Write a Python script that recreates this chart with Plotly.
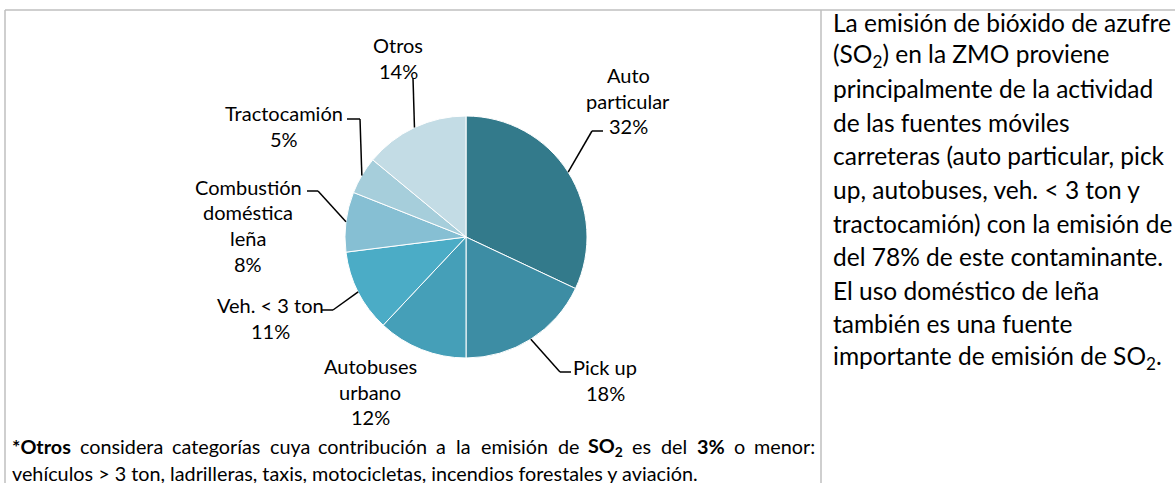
import math
import plotly.graph_objects as go

W, H = 1175, 483

# ---------------- data ----------------
categories = ["Auto particular", "Pick up", "Autobuses urbano", "Veh. < 3 ton",
              "Combustión doméstica leña", "Tractocamión", "Otros"]
values = [32, 18, 12, 11, 8, 5, 14]
name_lines = [["Auto", "particular"], ["Pick up"], ["Autobuses", "urbano"],
              ["Veh. < 3 ton"], ["Combustión", "doméstica", "leña"],
              ["Tractocamión"], ["Otros"]]
colors = ["#337A8B", "#3D8DA4", "#459FB8", "#4BACC6", "#86BFD3", "#A6CEDB", "#C3DCE5"]

side_text = [
    "La emisión de bióxido de azufre",
    "(SO<sub>2</sub>) en la ZMO proviene",
    "principalmente de la actividad",
    "de las fuentes móviles",
    "carreteras (auto particular, pick",
    "up, autobuses, veh. < 3 ton y",
    "tractocamión) con la emisión de",
    "del 78% de este contaminante.",
    "El uso doméstico de leña",
    "también es una fuente",
    "importante de emisión de SO<sub>2</sub>.",
]
# first footnote line is justified: (word, bold)
footnote_words = [("*Otros", True), ("considera", False), ("categorías", False), ("cuya", False),
                  ("contribución", False), ("a", False), ("la", False), ("emisión", False),
                  ("de", False), ("SO2", True), ("es", False), ("del", False), ("3%", True),
                  ("o", False), ("menor:", False)]
footnote_line2 = "vehículos > 3 ton, ladrilleras, taxis, motocicletas, incendios forestales y aviación."

# ---------------- layout constants (pixels) ----------------
FONT = "Lato"
cx, cy, r = 466, 237, 121
label_pos = [(628, 75), (605, 367), (370, 366), (270, 305), (248, 187), (284, 113), (398, 45)]
label_gap = 25.5
leaders = [((592, 131), (603, 131)), ((560, 372), (571, 372)), None,
           ((333, 310), (322, 310)), ((318, 191), (307, 191)),
           ((360, 119), (347, 119)), ((413, 78), None)]
FOOT_SIZE = 19.8
FOOT_LEFT, FOOT_RIGHT = 10, 817

# approximate glyph advance widths (per 1000 em) used only to spread the justified line
GW = {' ': 226, '*': 498, 'O': 662, 'S': 459, 'a': 479, 'b': 525, 'c': 423, 'd': 525, 'e': 498,
      'g': 471, 'i': 229, 'í': 229, 'l': 229, 'm': 799, 'n': 525, 'o': 527, 'ó': 527, 'r': 349,
      's': 391, 't': 335, 'u': 525, 'y': 453, ':': 268, '%': 715, '3': 507, '2': 355}


def word_w(w, bold, size):
    s = sum(GW.get(ch, 480) for ch in w) / 1000 * size * 1.05
    return s * (1.05 if bold else 1.0)


def xp(px):
    return px / W


def yp(py):
    return 1 - py / H


fig = go.Figure()
fig.add_trace(go.Pie(
    labels=categories, values=values, sort=False, direction="clockwise", rotation=0,
    marker=dict(colors=colors, line=dict(color="white", width=1)),
    textinfo="none", hoverinfo="label+percent", showlegend=False,
    domain=dict(x=[xp(cx - r), xp(cx + r)], y=[yp(cy + r), yp(cy - r)]),
))

annotations = []
shapes = []

total = sum(values)
cum = 0
for i, v in enumerate(values):
    mid = (cum + v / 2) / total
    cum += v
    ang = 2 * math.pi * mid
    ex, ey = cx + r * math.sin(ang), cy - r * math.cos(ang)
    lines = name_lines[i] + [f"{v}%"]
    lx, ly = label_pos[i]
    for j, t in enumerate(lines):
        annotations.append(dict(x=xp(lx), y=yp(ly + j * label_gap), xref="paper", yref="paper",
                                text=t, showarrow=False, xanchor="center", yanchor="middle",
                                font=dict(family=FONT, size=20, color="black")))
    ld = leaders[i]
    if ld is not None:
        (bx, by), end = ld
        shapes.append(dict(type="line", xref="paper", yref="paper",
                           x0=xp(ex), y0=yp(ey), x1=xp(bx), y1=yp(by),
                           line=dict(color="black", width=1.5)))
        if end is not None:
            shapes.append(dict(type="line", xref="paper", yref="paper",
                               x0=xp(bx), y0=yp(by), x1=xp(end[0]), y1=yp(end[1]),
                               line=dict(color="black", width=1.5)))

# side text
for i, t in enumerate(side_text):
    annotations.append(dict(x=xp(831), y=yp(22 + i * 33.5), xref="paper", yref="paper",
                            text=t, showarrow=False, xanchor="left", yanchor="middle",
                            font=dict(family=FONT, size=24.5, color="black")))

# footnote line 1 (justified)
widths = [word_w(w, b, FOOT_SIZE) for w, b in footnote_words]
gap = (FOOT_RIGHT - FOOT_LEFT - sum(widths)) / (len(widths) - 1)
cursor = FOOT_LEFT
for k, ((w, b), wd) in enumerate(zip(footnote_words, widths)):
    txt = w.replace("SO2", "SO<sub>2</sub>")
    if b:
        txt = f"<b>{txt}</b>"
    if k == 0:
        xa, xpos = "left", cursor
    elif k == len(widths) - 1:
        xa, xpos = "right", FOOT_RIGHT
    else:
        xa, xpos = "center", cursor + wd / 2
    annotations.append(dict(x=xp(xpos), y=yp(446), xref="paper", yref="paper",
                            text=txt, showarrow=False, xanchor=xa, yanchor="middle",
                            font=dict(family=FONT, size=FOOT_SIZE, color="black")))
    cursor += wd + gap

annotations.append(dict(x=xp(FOOT_LEFT), y=yp(473), xref="paper", yref="paper",
                        text=footnote_line2, showarrow=False, xanchor="left", yanchor="middle",
                        font=dict(family=FONT, size=FOOT_SIZE, color="black")))

# frame lines
frame = "#BFBFBF"
shapes += [
    dict(type="line", xref="paper", yref="paper", x0=xp(5), y0=yp(10), x1=xp(1175), y1=yp(10),
         line=dict(color=frame, width=1.5)),
    dict(type="line", xref="paper", yref="paper", x0=xp(5), y0=yp(10), x1=xp(5), y1=yp(483),
         line=dict(color=frame, width=1.5)),
    dict(type="line", xref="paper", yref="paper", x0=xp(821), y0=yp(10), x1=xp(821), y1=yp(483),
         line=dict(color=frame, width=1.5)),
]

fig.update_layout(
    width=W, height=H, autosize=False,
    margin=dict(l=0, r=0, t=0, b=0),
    paper_bgcolor="white", plot_bgcolor="white",
    annotations=annotations, shapes=shapes,
)

fig.write_html("out.html", config={"displayModeBar": False},
               post_script="document.body.style.margin='0px';")
